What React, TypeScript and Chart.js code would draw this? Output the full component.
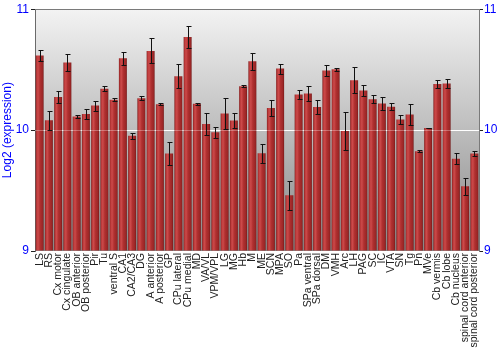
import React, { useEffect, useRef } from "react";
import { Chart, registerables } from "chart.js";

Chart.register(...registerables);

const categories = [
  "LS", "RS", "Cx motor", "Cx cingulate", "OB anterior", "OB posterior", "Pir", "Tu",
  "ventral S", "CA1", "CA2/CA3", "DG", "A anterior", "A posterior", "GP", "CPu lateral",
  "CPu medial", "MD", "VA/VL", "VPM/VPL", "LG", "MG", "Hb", "M", "ME", "SCN", "MPA", "SO",
  "Pa", "SPa ventral", "SPa dorsal", "DM", "VMH", "Arc", "LH", "PAG", "SC", "IC", "VTA",
  "SN", "Tg", "Pn", "MVe", "Cb vermis", "Cb lobe", "Cb nucleus", "spinal cord anterior",
  "spinal cord posterior",
];

const values = [
  10.617, 10.081, 10.274, 10.559, 10.112, 10.134, 10.203, 10.343,
  10.252, 10.594, 9.954, 10.263, 10.655, 10.214, 9.806, 10.446,
  10.771, 10.217, 10.051, 9.982, 10.137, 10.079, 10.363, 10.570, 9.808, 10.183, 10.509, 9.461,
  10.294, 10.302, 10.192, 10.492, 10.503, 9.993, 10.412, 10.327, 10.255, 10.219, 10.194,
  10.087, 10.128, 9.825, 10.018, 10.382, 10.385, 9.764, 9.535,
  9.806,
];

const errors = [
  0.045, 0.077, 0.047, 0.069, 0.012, 0.041, 0.041, 0.022,
  0.011, 0.052, 0.025, 0.018, 0.103, 0.010, 0.095, 0.097,
  0.088, 0.006, 0.091, 0.046, 0.126, 0.059, 0.008, 0.070, 0.080, 0.070, 0.041, 0.120,
  0.037, 0.062, 0.058, 0.048, 0.014, 0.156, 0.106, 0.048, 0.032, 0.055, 0.030,
  0.037, 0.088, 0.008, 0.003, 0.030, 0.036, 0.047, 0.072,
  0.022,
];

const yTicks = [9, 10, 11];

const FONT = "'Liberation Sans', Arial, sans-serif";
const BAR_PCT = 0.86;

export default function App() {
  const ref = useRef<HTMLCanvasElement | null>(null);

  useEffect(() => {
    document.body.style.margin = "0";
    const canvas = ref.current;
    if (!canvas) return;

    const bgPlugin = {
      id: "bgGrad",
      beforeDraw(chart: any) {
        const { ctx, chartArea } = chart;
        if (!chartArea) return;
        const g = ctx.createLinearGradient(0, chartArea.top, 0, chartArea.bottom);
        g.addColorStop(0, "#f3f3f3");
        g.addColorStop(1, "#878787");
        ctx.save();
        ctx.fillStyle = g;
        ctx.fillRect(chartArea.left, chartArea.top, chartArea.right - chartArea.left, chartArea.bottom - chartArea.top);
        ctx.restore();
      },
    };

    const errPlugin = {
      id: "errBars",
      afterDatasetsDraw(chart: any) {
        const { ctx, chartArea } = chart;
        const ys = chart.scales.y;
        const meta = chart.getDatasetMeta(0);
        ctx.save();
        const y10 = Math.round(ys.getPixelForValue(10)) + 0.5;
        ctx.strokeStyle = "rgba(255,255,255,0.3)";
        ctx.lineWidth = 1;
        ctx.beginPath();
        ctx.moveTo(chartArea.left, y10);
        ctx.lineTo(chartArea.right, y10);
        ctx.stroke();
        ctx.strokeStyle = "#7a7a7a";
        ctx.beginPath();
        ctx.moveTo(chartArea.left, Math.round(chartArea.top) + 0.5);
        ctx.lineTo(chartArea.right, Math.round(chartArea.top) + 0.5);
        ctx.stroke();
        ctx.strokeStyle = "#111";
        ctx.lineWidth = 1;
        meta.data.forEach((el: any, i: number) => {
          const x = Math.round(el.x) + 0.5;
          const yt = Math.round(ys.getPixelForValue(values[i] + errors[i])) + 0.5;
          const yb = Math.round(ys.getPixelForValue(values[i] - errors[i])) + 0.5;
          ctx.beginPath();
          ctx.moveTo(x, yt);
          ctx.lineTo(x, yb);
          ctx.moveTo(x - 2, yt);
          ctx.lineTo(x + 3, yt);
          ctx.moveTo(x - 2, yb);
          ctx.lineTo(x + 3, yb);
          ctx.stroke();
        });
        ctx.restore();
      },
    };

    const chart = new Chart(canvas, {
      type: "bar",
      data: {
        labels: categories,
        datasets: [
          {
            data: values,
            base: 9,
            barPercentage: BAR_PCT,
            categoryPercentage: 1,
            borderWidth: 0,
            backgroundColor: (c: any) => {
              const ch = c.chart;
              const xs = ch.scales && ch.scales.x;
              if (!xs || c.dataIndex === undefined) return "#b03030";
              const center = xs.getPixelForValue(c.dataIndex);
              const hw = (xs.width / categories.length) * BAR_PCT / 2;
              if (!isFinite(center) || !isFinite(hw) || hw <= 0) return "#b03030";
              const g = ch.ctx.createLinearGradient(center - hw, 0, center + hw, 0);
              g.addColorStop(0, "#7e1a1a");
              g.addColorStop(0.12, "#b83838");
              g.addColorStop(0.3, "#cc4a4a");
              g.addColorStop(0.55, "#b03030");
              g.addColorStop(0.88, "#9a2626");
              g.addColorStop(1, "#701414");
              return g;
            },
          } as any,
        ],
      },
      options: {
        responsive: false,
        animation: false,
        layout: { padding: { top: 9, left: 0, right: 0, bottom: 0 } },
        plugins: { legend: { display: false }, tooltip: { enabled: false } },
        scales: {
          x: {
            type: "category",
            grid: { display: false, drawTicks: false },
            border: { display: false },
            ticks: {
              autoSkip: false,
              maxRotation: 90,
              minRotation: 90,
              padding: 2,
              color: "#222",
              font: { family: FONT, size: 10.5 },
            },
            afterFit: (s: any) => {
              s.height = 99;
            },
          },
          y: {
            position: "left",
            min: 9,
            max: 11,
            afterBuildTicks: (s: any) => {
              s.ticks = yTicks.map((v) => ({ value: v }));
            },
            grid: {
              color: (c: any) => (c.tick && c.tick.value === 10 ? "#ffffff" : "rgba(0,0,0,0)"),
              tickColor: "#222",
              tickLength: 4,
              lineWidth: 1,
            },
            border: { display: true, color: "#6a6a6a" },
            ticks: {
              color: "#0000ff",
              padding: 2,
              font: { family: FONT, size: 12 },
            },
            title: {
              display: true,
              text: "Log2 (expression)",
              color: "#0000ff",
              font: { family: FONT, size: 12 },
              padding: { top: 0, bottom: 0 },
            },
            afterFit: (s: any) => {
              s.width = 35;
            },
          },
          y2: {
            position: "right",
            min: 9,
            max: 11,
            afterBuildTicks: (s: any) => {
              s.ticks = yTicks.map((v) => ({ value: v }));
            },
            grid: { drawOnChartArea: false, tickColor: "#222", tickLength: 4 },
            border: { display: true, color: "#7a7a7a" },
            ticks: {
              color: "#0000ff",
              padding: 1,
              font: { family: FONT, size: 12 },
            },
            afterFit: (s: any) => {
              s.width = 21;
            },
          },
        },
      },
      plugins: [bgPlugin, errPlugin],
    } as any);

    return () => chart.destroy();
  }, []);

  return (
    <div style={{ width: 500, height: 350 }}>
      <canvas ref={ref} width={500} height={350} style={{ display: "block" }} />
    </div>
  );
}
